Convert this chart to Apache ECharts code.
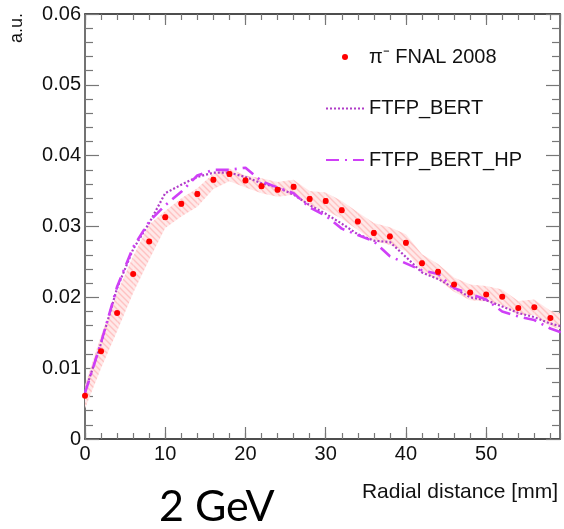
<!DOCTYPE html>
<html>
<head>
<meta charset="utf-8">
<script src="https://cdn.jsdelivr.net/npm/echarts@6/dist/echarts.min.js"></script>
<style>
  html, body { margin: 0; padding: 0; background: #fff; }
  #chart { width: 564px; height: 529px; }
</style>
</head>
<body>
<div id="chart"></div>
<script>
// data points (pi- FNAL 2008)
const dataX = [0, 2, 4, 6, 8, 10, 12, 14, 16, 18, 20, 22, 24, 26, 28, 30, 32, 34, 36, 38, 40, 42, 44, 46, 48, 50, 52, 54, 56, 58]
const dataY = [0.0061, 0.0124, 0.0178, 0.0233, 0.0279, 0.0313, 0.0332, 0.0346, 0.0366, 0.0374,
  0.0365, 0.0357, 0.0352, 0.0356, 0.0339, 0.0336, 0.0323, 0.0307, 0.0291, 0.0286,
  0.0277, 0.0248, 0.0236, 0.0218, 0.0207, 0.0204, 0.0201, 0.0185, 0.0186, 0.0171]
const dataErr = [0.0002, 0.0002, 0.0002, 0.0002, 0.0002, 0.0003, 0.0003, 0.0003, 0.0003, 0.0003,
  0.0003, 0.0003, 0.0003, 0.0003, 0.0003, 0.0003, 0.0003, 0.0003, 0.0003, 0.0003,
  0.0003, 0.0003, 0.0003, 0.0002, 0.0002, 0.0002, 0.0002, 0.0002, 0.0002, 0.0002]

// systematic band around the data
const bandX = [0, 2, 4, 6, 8, 10, 12, 14, 16, 18, 20, 22, 24, 26, 28, 30, 32, 34, 36, 38, 40, 42, 44, 46, 48, 50, 52, 54, 56, 58, 60]
const bandLo = [0.0043, 0.0100, 0.0152, 0.0206, 0.0253, 0.0298, 0.0314, 0.0328, 0.0353, 0.0364,
  0.0355, 0.0347, 0.0342, 0.0345, 0.0328, 0.0323, 0.0311, 0.0295, 0.0280, 0.0274,
  0.0265, 0.0236, 0.0225, 0.0208, 0.0196, 0.0194, 0.0189, 0.0175, 0.0175, 0.0159, 0.0153]
const bandHi = [0.0076, 0.0146, 0.0206, 0.0258, 0.0303, 0.0322, 0.0340, 0.0354, 0.0375, 0.0382,
  0.0372, 0.0368, 0.0363, 0.0366, 0.0350, 0.0348, 0.0336, 0.0320, 0.0305, 0.0299,
  0.0289, 0.0261, 0.0247, 0.0228, 0.0218, 0.0216, 0.0211, 0.0195, 0.0197, 0.0181, 0.0175]

// simulations
const mcX = [0, 2, 4, 6, 8, 10, 12, 14, 16, 18, 20, 22, 24, 26, 28, 30, 32, 34, 36, 38, 40, 42, 44, 46, 48, 50, 52, 54, 56, 58, 60]
const bertY = [0.0067, 0.0135, 0.0213, 0.0268, 0.0305, 0.0347, 0.0359, 0.0370, 0.0376, 0.0376,
  0.0370, 0.0361, 0.0355, 0.0345, 0.0330, 0.0318, 0.0304, 0.0289, 0.0280, 0.0278,
  0.0257, 0.0235, 0.0226, 0.0213, 0.0200, 0.0196, 0.0187, 0.0178, 0.0172, 0.0163, 0.0157]
const bertHpY = [0.0065, 0.0136, 0.0215, 0.0271, 0.0307, 0.0330, 0.0349, 0.0372, 0.0380, 0.0380,
  0.0383, 0.0364, 0.0355, 0.0347, 0.0327, 0.0315, 0.0297, 0.0288, 0.0279, 0.0258,
  0.0248, 0.0238, 0.0233, 0.0213, 0.0205, 0.0197, 0.0180, 0.0173, 0.0168, 0.0156, 0.0148]

const yTicks = [0, 0.01, 0.02, 0.03, 0.04, 0.05, 0.06]

const FONT = "'Liberation Sans', Arial, sans-serif"
const AXIS_COLOR = "#444"
const TICK_COLOR = "#777"
const RED = "#ff0000"
const BERT_COLOR = "#b03cc8"
const HP_COLOR = "#cf3ff7"

// hatched pink fill for the band
const hatch = document.createElement("canvas")
hatch.width = 6
hatch.height = 6
const hctx = hatch.getContext("2d")
hctx.fillStyle = "#ffe8e8"
hctx.fillRect(0, 0, 6, 6)
hctx.strokeStyle = "#ffc2c2"
hctx.lineWidth = 1.4
hctx.beginPath()
hctx.moveTo(0, 0); hctx.lineTo(6, 6)
hctx.moveTo(-3, 3); hctx.lineTo(3, 9)
hctx.moveTo(3, -3); hctx.lineTo(9, 3)
hctx.stroke()

const chart = echarts.init(document.getElementById("chart"), null, { renderer: "canvas" })

function xAxisDef(position, interval, tickLen, showLabel) {
  return {
    type: "value",
    position: position,
    min: 0,
    max: 59.2,
    interval: interval,
    axisLine: { show: true, onZero: false, lineStyle: { color: AXIS_COLOR, width: 1.5 } },
    axisTick: { show: true, inside: true, length: tickLen, lineStyle: { color: TICK_COLOR, width: 1.2 } },
    axisLabel: {
      show: showLabel,
      showMaxLabel: false,
      margin: 5,
      fontFamily: FONT,
      fontSize: 20,
      color: "#111",
    },
    splitLine: { show: false },
  }
}

function yAxisDef(position, showLabel) {
  return {
    type: "value",
    position: position,
    min: yTicks[0],
    max: yTicks[yTicks.length - 1],
    interval: 0.01,
    axisLine: { show: true, onZero: false, lineStyle: { color: AXIS_COLOR, width: 1.5 } },
    axisTick: { show: true, inside: true, length: 14, lineStyle: { color: TICK_COLOR, width: 1.2 } },
    minorTick: { show: true, splitNumber: 5, length: 8, lineStyle: { color: TICK_COLOR, width: 1.2 } },
    axisLabel: {
      show: showLabel,
      margin: 4,
      fontFamily: FONT,
      fontSize: 20,
      color: "#111",
      formatter: (v) => (v === 0 ? "0" : v.toFixed(2)),
    },
    splitLine: { show: false },
  }
}

chart.setOption({
  animation: false,
  grid: { left: 85, right: 4, top: 14, bottom: 90, containLabel: false },
  xAxis: [
    xAxisDef("bottom", 10, 12, true),
    xAxisDef("bottom", 2, 6, false),
    xAxisDef("top", 10, 11, false),
    xAxisDef("top", 2, 6, false),
  ],
  yAxis: [yAxisDef("left", true), yAxisDef("right", false)],
  legend: {
    orient: "vertical",
    left: 320,
    top: 42,
    itemWidth: 38,
    itemHeight: 6,
    itemGap: 31.5,
    data: [
      { name: "π⁻ FNAL 2008", icon: "circle" },
      { name: "FTFP_BERT", itemStyle: { opacity: 0 } },
      { name: "FTFP_BERT_HP", itemStyle: { opacity: 0 } },
    ],
    textStyle: { fontFamily: FONT, fontSize: 20, color: "#111", lineHeight: 20 },
  },
  graphic: [
    {
      type: "text",
      x: 26,
      y: 13,
      rotation: Math.PI / 2,
      style: { text: "a.u.", font: "18px " + FONT, fill: "#111", align: "right", verticalAlign: "bottom" },
    },
    {
      type: "text",
      x: 558,
      y: 503,
      style: { text: "Radial distance [mm]", font: "21px " + FONT, fill: "#111", align: "right", verticalAlign: "bottom" },
    },
    {
      type: "text",
      x: 159,
      y: 529,
      style: { text: "2 GeV", font: "43px Lato, 'Open Sans', sans-serif", fill: "#000", align: "left", verticalAlign: "bottom" },
    },
  ],
  series: [
    {
      name: "band",
      type: "custom",
      clip: true,
      silent: true,
      data: bandX.map((x, i) => [x, bandLo[i], bandHi[i]]),
      renderItem: (params, api) => {
        const i = params.dataIndexInside
        if (i >= params.dataInsideLength - 1) return null
        const a = [api.value(0, i), api.value(1, i), api.value(2, i)]
        const b = [api.value(0, i + 1), api.value(1, i + 1), api.value(2, i + 1)]
        const pts = [
          api.coord([a[0], a[1]]),
          api.coord([b[0], b[1]]),
          api.coord([b[0], b[2]]),
          api.coord([a[0], a[2]]),
        ]
        return {
          type: "polygon",
          shape: { points: pts },
          style: { fill: { image: hatch, repeat: "repeat" } },
        }
      },
      z: 1,
    },
    {
      name: "FTFP_BERT",
      type: "line",
      symbol: "none",
      color: BERT_COLOR,
      lineStyle: { color: BERT_COLOR, width: 2.2, type: [2, 2] },
      data: mcX.map((x, i) => [x, bertY[i]]),
      z: 3,
    },
    {
      name: "FTFP_BERT_HP",
      type: "line",
      symbol: "none",
      color: HP_COLOR,
      lineStyle: { color: HP_COLOR, width: 2.6, type: [13, 6, 2, 6] },
      data: mcX.map((x, i) => [x, bertHpY[i]]),
      z: 3,
    },
    {
      name: "π⁻ FNAL 2008",
      type: "custom",
      data: dataX.map((x, i) => [x, dataY[i], dataErr[i]]),
      renderItem: (params, api) => {
        const x = api.value(0)
        const y = api.value(1)
        const e = api.value(2)
        const top = api.coord([x, y + e])
        const bot = api.coord([x, y - e])
        const mid = api.coord([x, y])
        return {
          type: "group",
          children: [
            { type: "line", shape: { x1: top[0], y1: top[1], x2: bot[0], y2: bot[1] }, style: { stroke: RED, lineWidth: 1 } },
            { type: "line", shape: { x1: top[0] - 2, y1: top[1], x2: top[0] + 2, y2: top[1] }, style: { stroke: RED, lineWidth: 1 } },
            { type: "line", shape: { x1: bot[0] - 2, y1: bot[1], x2: bot[0] + 2, y2: bot[1] }, style: { stroke: RED, lineWidth: 1 } },
            { type: "circle", shape: { cx: mid[0], cy: mid[1], r: 3 }, style: { fill: RED } },
          ],
        }
      },
      itemStyle: { color: RED },
      z: 5,
    },
  ],
})
</script>
</body>
</html>
